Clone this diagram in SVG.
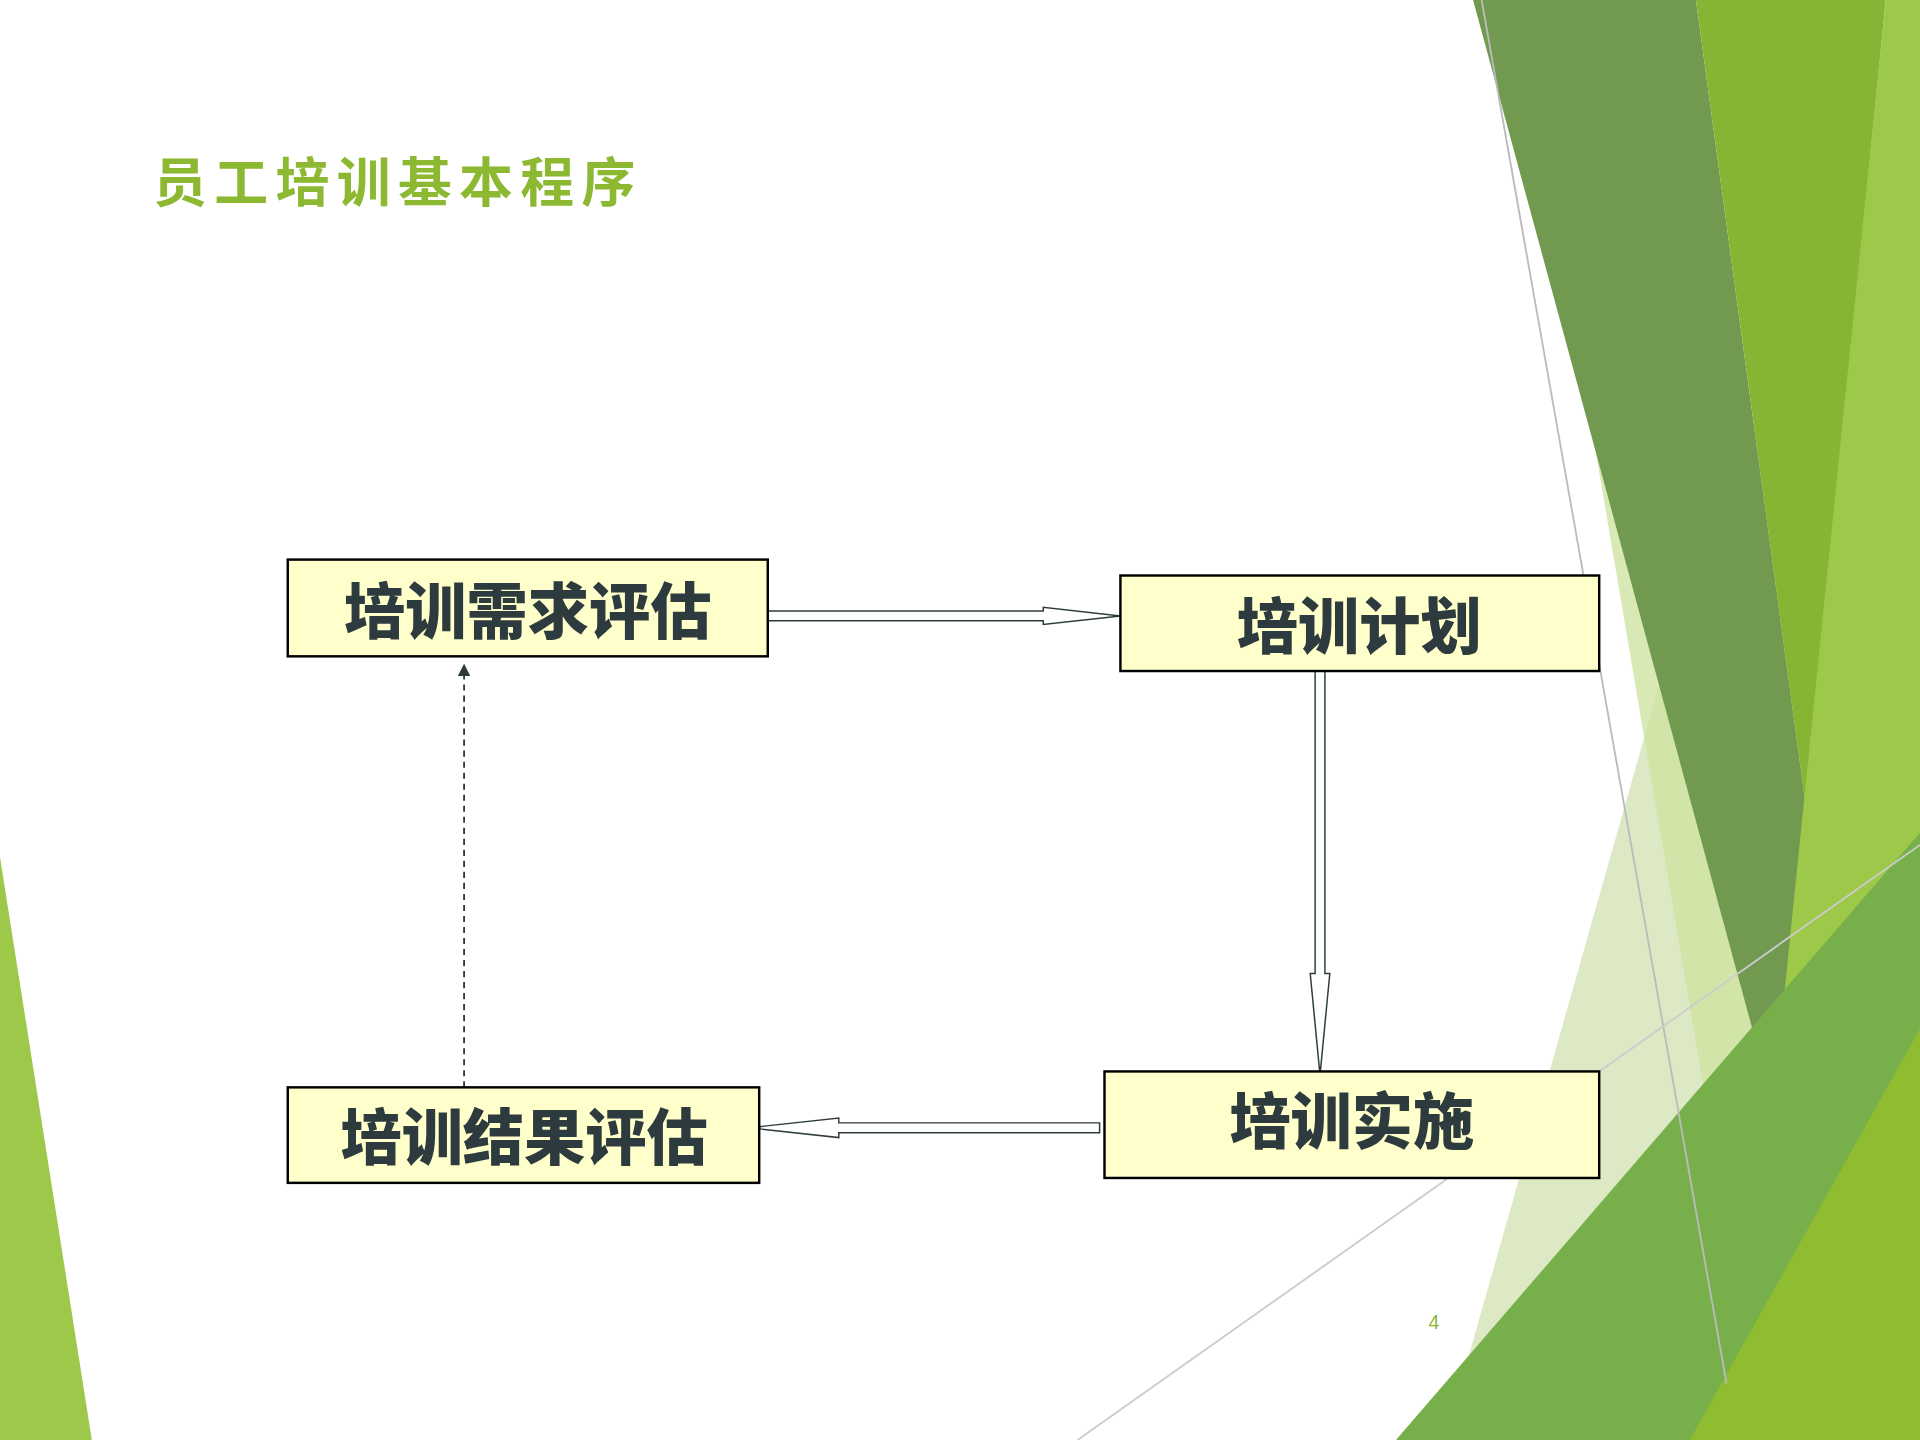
<svg xmlns="http://www.w3.org/2000/svg" width="1920" height="1440" viewBox="0 0 1920 1440">
<defs>
<style>
.box{fill:#ffffcc;stroke:#000;stroke-width:2}
.lbl{font-family:"Noto Sans CJK SC",sans-serif;font-weight:900;font-size:50px;fill:#2e3b3e;text-anchor:middle;dominant-baseline:central}
.harrow{fill:#fff;stroke:#2e3b3e;stroke-width:1.2}
</style>
<marker id="ah" markerWidth="10" markerHeight="10" refX="5" refY="5" orient="auto" markerUnits="userSpaceOnUse"><path d="M0,0 L10,5 L0,10 Z" fill="#2e3b3e"/></marker>
</defs>
<rect width="1920" height="1440" fill="#fff"/>
<g transform="scale(1.2245)">
<g id="decor">
<polygon points="0,700 75,1176 0,1176" fill="#9dc84a"/>
<polygon points="1180,1176 1420,330 1480,1176" fill="#dde9c4"/>
<polygon points="1300,350 1568,350 1568,1176 1440,1176" fill="#cfe3a2" opacity="0.8"/>
<polygon points="1203,0 1385,0 1475,660 1450,910" fill="#71994f"/>
<polygon points="1385,0 1540,0 1475,660" fill="#86b534"/>
<polygon points="1540,0 1568,0 1568,1176 1420,1176" fill="#9dc84a"/>
<polygon points="1140,1176 1568,680 1568,1176" fill="#77b04a"/>
<polygon points="1380,1176 1568,840 1568,1176" fill="#8fbc30"/>
<line x1="1210" y1="0" x2="1410" y2="1130" stroke="#bbb" stroke-width="1.5"/>
<line x1="880" y1="1176" x2="1568" y2="690" stroke="#ccc" stroke-width="1.5"/>
</g>
<text x="125" y="165" font-family="Noto Sans CJK SC,sans-serif" font-weight="700" font-size="44" fill="#8cb832" letter-spacing="6">员工培训基本程序</text>
<g id="connectors">
<polygon class="harrow" points="627,499 852,499 852,496 915,503 852,510 852,507 627,507"/>
<polygon class="harrow" points="1074,548 1082,548 1082,795 1086,795 1078,878 1070,795 1074,795"/>
<polygon class="harrow" points="898,917 685,917 685,913 612,921 685,929 685,925 898,925"/>
<line x1="379" y1="888" x2="379" y2="547" stroke="#2e3b3e" stroke-width="1.5" stroke-dasharray="5,4" marker-end="url(#ah)"/>
</g>
<g id="n1"><rect class="box" x="235" y="457" width="392" height="79"/><text class="lbl" x="431" y="496">培训需求评估</text></g>
<g id="n2"><rect class="box" x="915" y="470" width="391" height="78"/><text class="lbl" x="1110" y="508">培训计划</text></g>
<g id="n3"><rect class="box" x="902" y="875" width="404" height="87"/><text class="lbl" x="1104" y="913">培训实施</text></g>
<g id="n4"><rect class="box" x="235" y="888" width="385" height="78"/><text class="lbl" x="428" y="926">培训结果评估</text></g>
<text x="1171" y="1085" font-family="Liberation Sans,sans-serif" font-size="16" fill="#8cb832" text-anchor="middle">4</text>
</g>
</svg>
